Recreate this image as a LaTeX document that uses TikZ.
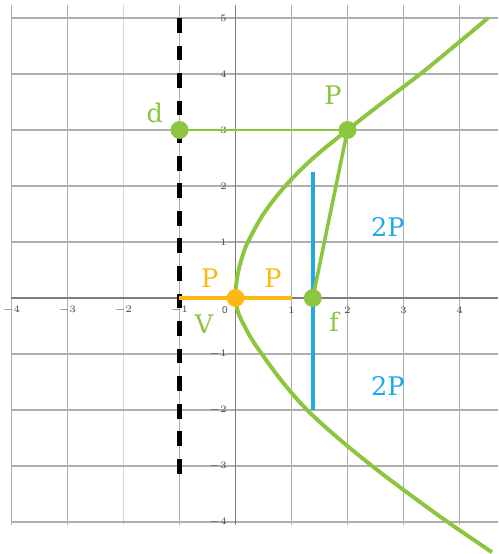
\documentclass[tikz,border=0pt]{standalone}
\usepackage{fontspec}
\setmainfont{DejaVu Serif}
\setsansfont{Liberation Sans}
\usetikzlibrary{backgrounds}
\definecolor{pgreen}{RGB}{140,198,63}
\definecolor{pblue}{RGB}{30,170,230}
\definecolor{porange}{RGB}{253,185,19}
\definecolor{gridgray}{RGB}{175,175,175}
\definecolor{gridlight}{RGB}{215,215,215}
\definecolor{axisgray}{RGB}{125,125,125}
\begin{document}
\begin{tikzpicture}[x=1cm,y=1cm,
  gridline/.style={gridgray, line width=0.6pt},
  axisline/.style={axisgray, line width=0.8pt},
  ticklab/.style={font=\sffamily\fontsize{5}{6}\selectfont, text=black!70, inner sep=0pt},
  lab/.style={font=\fontsize{13}{13}\selectfont, inner sep=0pt},
  dot/.style={circle, fill=#1, minimum size=0.32cm, inner sep=0pt},
  curvestyle/.style={pgreen, line width=2pt, line join=round},
  dirstyle/.style={black, line width=2.5pt, dash pattern=on 7.5pt off 6.5pt},
]
\useasboundingbox (-4.205,-4.571) rectangle (4.6875,5.321);
% points
\node[dot=pgreen] (d) at (-1,3) {};
\node[dot=pgreen] (P) at (2,3) {};
\node[dot=pgreen] (f) at (1.38,0) {};
\node[dot=porange] (V) at (0,0) {};
\coordinate (dtop) at (-1,5);
\coordinate (dbot) at (-1,-3.3);
\coordinate (oL) at (-1,0);
\coordinate (oR) at (1,0);
\coordinate (btop) at (1.38,2.25);
\coordinate (bbot) at (1.38,-2);
\begin{scope}[on background layer]
\fill[white] (-4.205,-4.571) rectangle (4.6875,5.321);
\foreach \x in {-4,-3,-1,1,2,3,4} \draw[gridline] (\x,-4.05) -- (\x,5.23);
\draw[gridline, gridlight] (-2,-4.05) -- (-2,5.23);
\foreach \y in {-4,-3,-2,-1,1,2,3,4,5} \draw[gridline] (-4,\y) -- (4.6875,\y);
\draw[axisline] (-4,0) -- (4.6875,0);
\draw[axisline] (0,-4.05) -- (0,5.23);
\foreach \x in {-4,-3,-2,-1,1,2,3,4} \node[ticklab] at (\x,-0.22) {$\x$};
\node[ticklab] at (-0.19,-0.22) {0};
\foreach \y in {-4,-3,-2,-1,1,2,3,4,5} \node[ticklab, anchor=east] at (-0.15,\y) {$\y$};
\draw[dirstyle] (dtop) -- (dbot);
\draw[porange, line width=2pt] (oL) -- (oR);
\draw[pblue, line width=1.8pt] (btop) -- (bbot);
\draw[pgreen, line width=1.5pt] (d.center) -- (P.center);
\draw[pgreen, line width=1.8pt] (P.center) -- (f.center);
\draw[curvestyle] plot[smooth, tension=0.6] coordinates {
 (4.51,5) (3.91,4.5) (3.30,4) (2.64,3.5) (2,3) (1.389,2.5) (0.889,2) (0.5,1.5)
 (0.222,1) (0.125,0.75) (0.056,0.5) (0.014,0.25) (0,0)
 (0.045,-0.25) (0.16,-0.5) (0.30,-0.75) (0.47,-1) (0.84,-1.5) (1.28,-2)
 (1.83,-2.5) (2.44,-3) (3.10,-3.5) (3.79,-4) (4.58,-4.54)};
\end{scope}
% labels
\node[lab, text=pgreen] (ld) at (-1.44,3.30) {d};
\node[lab, text=pgreen] (lP) at (1.74,3.63) {P};
\node[lab, text=pblue] (l2a) at (2.72,1.27) {2P};
\node[lab, text=pblue] (l2b) at (2.72,-1.57) {2P};
\node[lab, text=porange] (lp1) at (-0.46,0.36) {P};
\node[lab, text=porange] (lp2) at (0.67,0.36) {P};
\node[lab, text=pgreen] (lV) at (-0.56,-0.46) {V};
\node[lab, text=pgreen] (lf) at (1.76,-0.43) {f};
\end{tikzpicture}
\end{document}
